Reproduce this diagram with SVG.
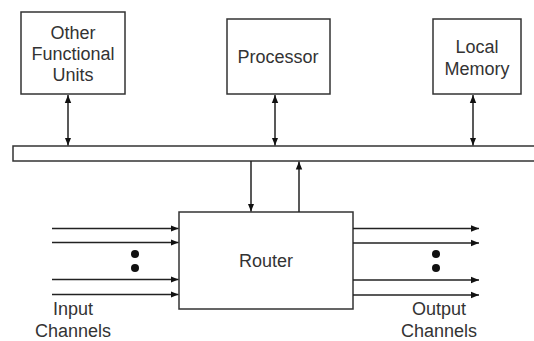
<svg xmlns="http://www.w3.org/2000/svg" width="534" height="341" viewBox="0 0 534 341">
<defs>
<style>
.box{fill:#fff;stroke:#333;stroke-width:1.5}
.ln{stroke:#222;stroke-width:1.5;fill:none}
.t{font-family:"Liberation Sans",Arial,sans-serif;font-size:18px;fill:#333;text-anchor:middle}
.dot{fill:#111}
</style>
<marker id="ah" viewBox="0 0 8 8" refX="8" refY="4" markerWidth="8" markerHeight="8" markerUnits="userSpaceOnUse" orient="auto-start-reverse">
<path d="M0,0.8 L8,4 L0,7.2 z" fill="#111"/>
</marker>
</defs>
<rect width="534" height="341" fill="#fff"/>
<g id="other-units">
<rect class="box" x="21" y="12" width="104" height="82"/>
<text class="t" x="73" y="39">Other</text>
<text class="t" x="73" y="60">Functional</text>
<text class="t" x="73" y="81">Units</text>
</g>
<g id="processor">
<rect class="box" x="227" y="19" width="103" height="75"/>
<text class="t" x="278" y="63">Processor</text>
</g>
<g id="local-memory">
<rect class="box" x="433" y="19" width="88" height="75"/>
<text class="t" x="477" y="53">Local</text>
<text class="t" x="477" y="75">Memory</text>
</g>
<g id="bus">
<path class="box" d="M540,146 H13 V161 H540"/>
</g>
<g id="router">
<rect class="box" x="179" y="212" width="174" height="97"/>
<text class="t" x="266" y="267">Router</text>
</g>
<g id="connectors">
<line class="ln" x1="68" y1="95" x2="68" y2="145.5" marker-start="url(#ah)" marker-end="url(#ah)"/>
<line class="ln" x1="275" y1="95" x2="275" y2="145.5" marker-start="url(#ah)" marker-end="url(#ah)"/>
<line class="ln" x1="473" y1="95" x2="473" y2="145.5" marker-start="url(#ah)" marker-end="url(#ah)"/>
<line class="ln" x1="251" y1="161" x2="251" y2="211.5" marker-end="url(#ah)"/>
<line class="ln" x1="299" y1="212" x2="299" y2="161.5" marker-end="url(#ah)"/>
<line class="ln" x1="52" y1="228.5" x2="178.5" y2="228.5" marker-end="url(#ah)"/>
<line class="ln" x1="52" y1="242.5" x2="178.5" y2="242.5" marker-end="url(#ah)"/>
<line class="ln" x1="52" y1="279.5" x2="178.5" y2="279.5" marker-end="url(#ah)"/>
<line class="ln" x1="52" y1="294.5" x2="178.5" y2="294.5" marker-end="url(#ah)"/>
<line class="ln" x1="353" y1="228.5" x2="479" y2="228.5" marker-end="url(#ah)"/>
<line class="ln" x1="353" y1="243" x2="479" y2="243" marker-end="url(#ah)"/>
<line class="ln" x1="353" y1="280" x2="479" y2="280" marker-end="url(#ah)"/>
<line class="ln" x1="353" y1="295" x2="479" y2="295" marker-end="url(#ah)"/>
</g>
<g id="input-channels">
<circle class="dot" cx="135" cy="254" r="4"/>
<circle class="dot" cx="135" cy="268" r="4"/>
<text class="t" x="73" y="315">Input</text>
<text class="t" x="73" y="337">Channels</text>
</g>
<g id="output-channels">
<circle class="dot" cx="436" cy="254" r="4"/>
<circle class="dot" cx="436" cy="268" r="4"/>
<text class="t" x="439" y="315">Output</text>
<text class="t" x="439" y="337">Channels</text>
</g>
</svg>
